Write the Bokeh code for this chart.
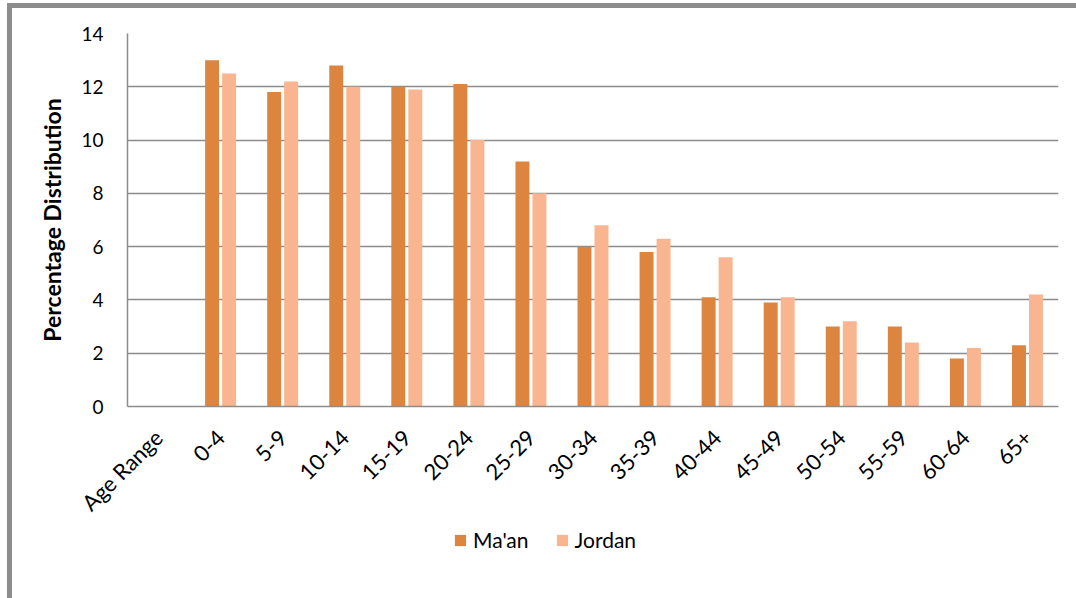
import math
from bokeh.plotting import figure
from bokeh.models import (FactorRange, Range1d, ColumnDataSource, Legend, LegendItem,
                          FixedTicker)
from bokeh.layouts import column
from bokeh.transform import dodge
from bokeh.embed import file_html
from bokeh.resources import INLINE

x_labels = ["Age Range", "0-4", "5-9", "10-14", "15-19", "20-24", "25-29", "30-34",
            "35-39", "40-44", "45-49", "50-54", "55-59", "60-64", "65+"]
ages = x_labels[1:]
maan = [13.0, 11.8, 12.8, 12.0, 12.1, 9.2, 6.0, 5.8, 4.1, 3.9, 3.0, 3.0, 1.8, 2.3]
jordan = [12.5, 12.2, 12.0, 11.9, 10.0, 8.0, 6.8, 6.3, 5.6, 4.1, 3.2, 2.4, 2.2, 4.2]
y_ticks = [0, 2, 4, 6, 8, 10, 12, 14]
series_names = ["Ma'an", "Jordan"]

MAAN_COL = "#DD853F"
JORDAN_COL = "#F9B58F"
GRID_COL = "#8C8C8C"
FONT = "Lato"

src = ColumnDataSource(dict(age=ages, maan=maan, jordan=jordan))

p = figure(x_range=FactorRange(factors=x_labels, range_padding=0),
           y_range=Range1d(0, 14),
           width=1064, height=520,
           output_backend="svg", toolbar_location=None,
           min_border_left=115, min_border_right=18, min_border_top=25,
           min_border_bottom=122)

p.vbar(x=dodge("age", -0.137, range=p.x_range), top="maan", width=0.225,
       source=src, fill_color=MAAN_COL, line_color=None)
p.vbar(x=dodge("age", 0.137, range=p.x_range), top="jordan", width=0.225,
       source=src, fill_color=JORDAN_COL, line_color=None)

p.outline_line_color = None
p.xgrid.visible = False
p.ygrid.grid_line_color = GRID_COL
p.ygrid.grid_line_width = 1.5
p.yaxis.ticker = FixedTicker(ticks=y_ticks)

for ax in (p.xaxis[0], p.yaxis[0]):
    ax.axis_line_color = GRID_COL
    ax.axis_line_width = 1.5
    ax.major_tick_line_color = None
    ax.minor_tick_line_color = None
    ax.major_tick_out = 0
    ax.major_tick_in = 0
    ax.major_label_text_font = FONT
    ax.major_label_text_color = "#000000"

p.yaxis.major_label_text_font_size = "19px"
p.xaxis.major_label_text_font_size = "22px"
p.yaxis.major_label_standoff = 24
p.yaxis.axis_label = "Percentage Distribution"
p.yaxis.axis_label_text_font = FONT
p.yaxis.axis_label_text_font_style = "bold"
p.yaxis.axis_label_text_font_size = "23px"
p.yaxis.axis_label_text_color = "#000000"
p.yaxis.axis_label_standoff = 12

p.xaxis.major_label_orientation = math.pi / 4
p.xaxis.major_label_standoff = 27

# legend strip below the chart (dummy renderers lie outside the visible range)
q = figure(x_range=Range1d(0, 1), y_range=Range1d(0, 1),
           width=1064, height=70, output_backend="svg", toolbar_location=None,
           x_axis_type=None, y_axis_type=None,
           min_border_left=0, min_border_right=0, min_border_top=0, min_border_bottom=0)
q.outline_line_color = None
q.xgrid.visible = False
q.ygrid.visible = False
l1 = q.vbar(x=[5], top=[5], bottom=[4], width=0.1, fill_color=MAAN_COL, line_color=None)
l2 = q.vbar(x=[5], top=[5], bottom=[4], width=0.1, fill_color=JORDAN_COL, line_color=None)

legend = Legend(items=[LegendItem(label=series_names[0], renderers=[l1]),
                       LegendItem(label=series_names[1], renderers=[l2])],
                orientation="horizontal", location=(326, 46))
legend.border_line_color = None
legend.background_fill_alpha = 0
legend.padding = 0
legend.margin = 0
legend.glyph_width = 14
legend.glyph_height = 14
legend.label_text_font = FONT
legend.label_text_font_size = "21px"
legend.label_text_color = "#000000"
legend.label_standoff = 6
legend.spacing = 26
q.add_layout(legend)

layout = column(p, q, spacing=0)
layout.styles = {"margin-left": "7px", "margin-top": "3px",
                 "border-left": "5px solid #8C8C8C", "border-top": "5px solid #8C8C8C"}

open("out.html", "w").write(file_html(layout, INLINE))
